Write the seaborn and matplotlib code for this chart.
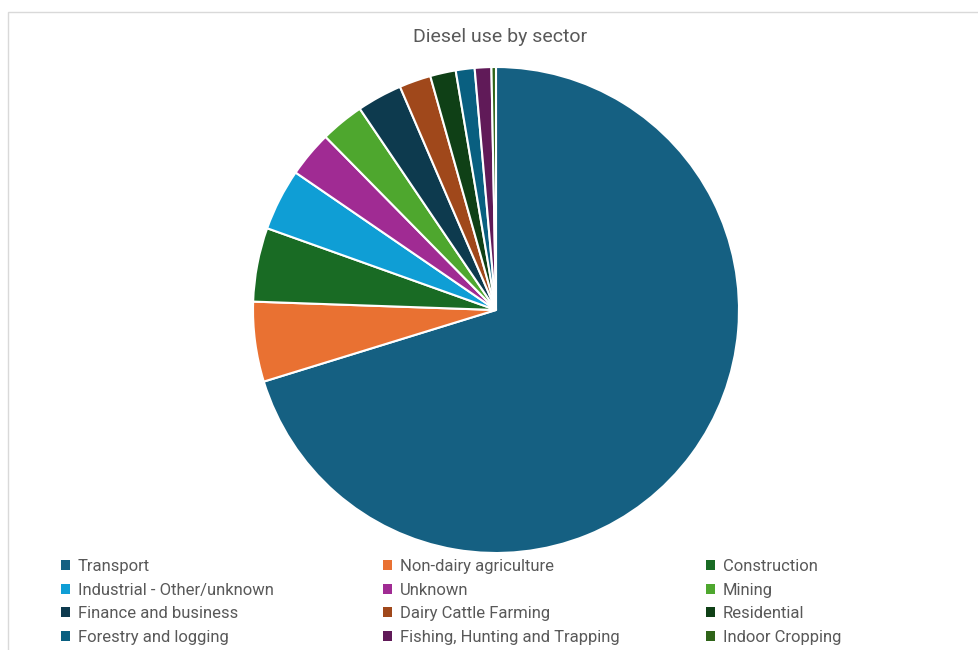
import matplotlib
matplotlib.use("Agg")
import matplotlib.pyplot as plt
import seaborn as sns
from matplotlib.patches import Rectangle, Patch

sns.set_theme(style="white")
plt.rcParams['font.family'] = ['Roboto', 'DejaVu Sans']

sectors = ["Transport", "Non-dairy agriculture", "Construction",
           "Industrial - Other/unknown", "Unknown", "Mining",
           "Finance and business", "Dairy Cattle Farming", "Residential",
           "Forestry and logging", "Fishing, Hunting and Trapping", "Indoor Cropping"]
shares = [70.1, 5.3, 4.9, 4.1, 3.05, 2.9, 3.0, 2.1, 1.7, 1.25, 1.1, 0.3]
colors = ["#156082", "#E97132", "#196B24", "#0F9ED5", "#A02B93", "#4EA72E",
          "#0D3A4E", "#A0481B", "#0F4016", "#095F80", "#601A58", "#2F6419"]

W, H = 979, 650
fig = plt.figure(figsize=(W / 100, H / 100), dpi=100)

# chart frame
fig.patches.append(Rectangle((8 / W, -0.01), 1.0, 1 - 12 / H + 0.01,
                             transform=fig.transFigure, fill=False,
                             edgecolor="#d9d9d9", linewidth=1.0))

cx, cy, r = 496, 310, 243
ax = fig.add_axes([(cx - r) / W, (H - cy - r) / H, 2 * r / W, 2 * r / H])
wedges, _ = ax.pie(shares, colors=colors, startangle=90, counterclock=False,
                   wedgeprops=dict(edgecolor="white", linewidth=1.5))
ax.set_xlim(-1, 1)
ax.set_ylim(-1, 1)
ax.set_aspect("equal")
ax.axis("off")

fig.text(500 / W, 1 - 37 / H, "Diesel use by sector", ha="center", va="center",
         fontsize=14, color="#595959")

# legend in three columns, row-wise order
col_x = [61, 383, 706]
for c in range(3):
    idx = [c + 3 * k for k in range(4)]
    handles = [Patch(facecolor=colors[i], edgecolor="none") for i in idx]
    labels = [sectors[i] for i in idx]
    leg = fig.legend(handles, labels, loc="upper left",
                     bbox_to_anchor=(col_x[c] / W, 1 - 559 / H),
                     frameon=False, fontsize=12, handlelength=0.55,
                     handleheight=0.55, handletextpad=0.45, labelspacing=0.52,
                     borderpad=0, borderaxespad=0)
    for t in leg.get_texts():
        t.set_color("#595959")

fig.savefig("out.png", dpi=100)
